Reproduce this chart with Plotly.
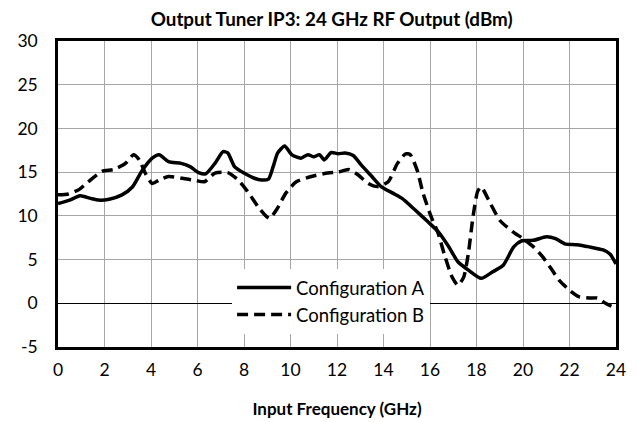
import plotly.graph_objects as go

# Configuration A (solid)
freq_a = [0, 0.5, 0.95, 1.4, 1.75, 2.2, 2.75, 3.2, 3.6, 4.05, 4.35, 4.75, 5.3, 5.7, 6.05, 6.35,
          6.75, 7.1, 7.3, 7.6, 8.0, 8.45, 8.75, 9.05, 9.25, 9.45, 9.75, 10.05, 10.45, 10.75, 11.0,
          11.25, 11.45, 11.75, 12.05, 12.35, 12.7, 13.05, 13.5, 13.9, 14.4, 14.8, 15.35, 15.9,
          16.35, 16.8, 17.2, 17.65, 18.2, 18.7, 19.15, 19.6, 19.95, 20.45, 21.0, 21.4, 21.8,
          22.3, 22.85, 23.45, 23.75, 24.0]
ip3_a = [11.4, 11.8, 12.3, 12.0, 11.8, 11.9, 12.4, 13.3, 15.1, 16.6, 17.0, 16.2, 16.0, 15.6, 14.95, 14.8,
         16.0, 17.35, 17.2, 15.6, 14.9, 14.3, 14.1, 14.2, 15.6, 17.2, 18.0, 17.0, 16.6, 17.0, 16.75,
         17.0, 16.4, 17.25, 17.1, 17.2, 16.9, 15.8, 14.5, 13.35, 12.6, 12.0, 10.7, 9.35,
         8.2, 6.5, 4.75, 3.8, 2.85, 3.6, 4.35, 6.45, 7.15, 7.2, 7.6, 7.4, 6.8,
         6.7, 6.45, 6.1, 5.6, 4.5]

# Configuration B (dashed)
freq_b = [0, 0.45, 0.9, 1.3, 1.9, 2.4, 2.9, 3.25, 3.5, 3.75, 4.05, 4.35, 4.75, 5.35, 5.9, 6.3,
          6.75, 7.3, 7.75, 8.15, 8.6, 8.9, 9.1, 9.4, 9.8, 10.25, 10.9, 11.6, 12.05, 12.5, 12.9,
          13.35, 13.75, 14.2, 14.6, 14.95, 15.15, 15.45, 15.7, 16.05, 16.35, 16.65, 16.95, 17.2,
          17.45, 17.65, 17.85, 18.05, 18.2, 18.6, 19.0, 19.55, 20.0, 20.45, 20.85, 21.2, 21.55,
          22.0, 22.4, 22.85, 23.2, 23.55, 24.0]
ip3_b = [12.4, 12.5, 13.0, 13.9, 15.1, 15.3, 16.0, 17.0, 16.4, 14.9, 13.7, 14.1, 14.5, 14.3, 14.05, 13.9,
         14.9, 14.95, 14.1, 12.8, 11.05, 10.1, 9.7, 10.7, 12.6, 13.9, 14.5, 14.9, 15.0, 15.3, 14.7,
         13.7, 13.35, 13.9, 16.0, 17.1, 17.0, 15.2, 12.6, 9.9, 8.0, 5.3, 3.0, 2.05,
         3.0, 5.7, 9.9, 12.8, 13.3, 11.4, 9.5, 8.2, 7.4, 6.45, 5.3, 4.0, 2.65,
         1.5, 0.75, 0.6, 0.6, 0.0, -0.6]

x_ticks = [0, 2, 4, 6, 8, 10, 12, 14, 16, 18, 20, 22, 24]
y_ticks = [-5, 0, 5, 10, 15, 20, 25, 30]

font_family = "Lato, 'Open Sans', sans-serif"

fig = go.Figure()
fig.add_trace(go.Scatter(x=freq_a, y=ip3_a, mode="lines", name="Configuration A",
                         line=dict(color="black", width=3.5, shape="spline", smoothing=0.6)))
fig.add_trace(go.Scatter(x=freq_b, y=ip3_b, mode="lines", name="Configuration B",
                         line=dict(color="black", width=3.5, dash="11px,6px", shape="spline", smoothing=0.6)))

# page body has an 8px margin, so the figure is sized/margined to compensate
fig.update_layout(
    width=631, height=414,
    margin=dict(l=50, r=23, t=33, b=75),
    paper_bgcolor="white", plot_bgcolor="white",
    font=dict(family=font_family, size=17.5, color="black"),
    title=dict(text="<b>Output Tuner IP3: 24 GHz RF Output (dBm)</b>",
               x=0.513, xanchor="center", y=0.972, yanchor="middle",
               font=dict(size=18.8, family=font_family)),
    showlegend=True,
    legend=dict(x=0.312, y=0.255, xanchor="left", yanchor="top",
                bgcolor="white", borderwidth=0, font=dict(size=18.5),
                itemwidth=54, tracegroupgap=0),
)
fig.update_xaxes(range=[0, 24], tickvals=x_ticks, ticktext=[str(v) for v in x_ticks],
                 showgrid=True, gridcolor="#a6a6a6", gridwidth=1.3,
                 showline=True, linecolor="black", linewidth=2.5, mirror=True,
                 ticks="", zeroline=False, automargin=False, ticklabelstandoff=5,
                 title=dict(text="<b>Input Frequency (GHz)</b>", font=dict(size=17), standoff=25))
fig.update_yaxes(range=[-5, 30], tickvals=y_ticks, ticktext=[str(v) for v in y_ticks],
                 showgrid=True, gridcolor="#a6a6a6", gridwidth=1.3,
                 showline=True, linecolor="black", linewidth=2.5, mirror=True,
                 ticks="", zeroline=True, zerolinecolor="black", zerolinewidth=1.2,
                 automargin=False, ticklabelstandoff=14)

fig.write_html("out.html")
